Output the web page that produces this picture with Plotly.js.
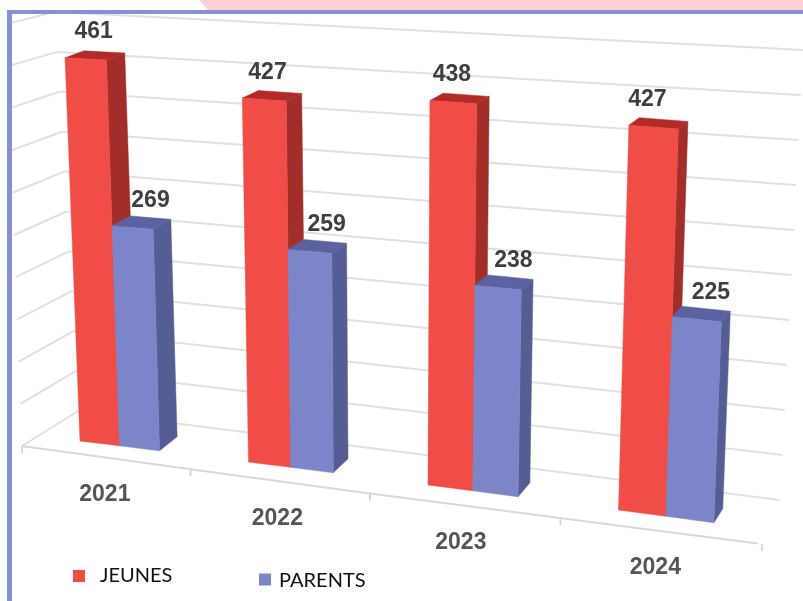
<!DOCTYPE html>
<html>
<head>
<meta charset="utf-8">
<script src="https://cdn.plot.ly/plotly-3.0.1.min.js"></script>
<style>html,body{margin:0;padding:0;background:#fff}#chart{width:803px;height:601px;filter:blur(0.45px)}</style>
</head>
<body>
<div id="chart"></div>
<script>
const years = ["2021", "2022", "2023", "2024"];
const jeunes = [461, 427, 438, 427];
const parents = [269, 259, 238, 225];
const seriesNames = ["JEUNES", "PARENTS"];
const gridValues = [0, 50, 100, 150, 200, 250, 300, 350, 400, 450, 500];
const floorTicks = [0, 1, 2, 3, 4];

// Perspective projection of (position along the category axis, value, depth) to screen space
const baseX = u => 80 + 163 * u + 5.5 * u * u;
const baseY = u => 441 + 20 * u + 1.0 * u * u;
const scaleY = (u, v) => 0.785 + 0.0245 * u + 0.0001 * v;
const tilt = u => 0.039 - 0.022 * u;
const BAR = 0.24;
function project(u, v, d) {
  const h = scaleY(u, v) * v;
  const dx = (19 - 2.9 * u) * d;
  const dy = (-14 + 7 * v / 461) * d;
  return [baseX(u) - tilt(u) * h + dx, baseY(u) - h + dy];
}
const floorFrontX = t => 22 + 163 * t + 5.5 * t * t;
const floorFrontY = t => 446 + 22.9 * t + 0.4 * t * t;

const traces = [];
function poly(points, color) {
  traces.push({
    type: "scatter", mode: "lines", fill: "toself", fillcolor: color,
    x: points.map(p => p[0]).concat(points[0][0]),
    y: points.map(p => p[1]).concat(points[0][1]),
    line: {color: color, width: 0.5}, hoverinfo: "skip", showlegend: false
  });
}

// Walls and floor grid
const gx = [], gy = [];
function seg(a, b) { gx.push(a[0], b[0], null); gy.push(a[1], b[1], null); }
const backL = v => [78 - 23 * v / 500, 411 - 399 * v / 500];
const backR = v => [780 + 23 * v / 500, 500 - 450 * v / 500];
const sideF = v => [22 - 16 * v / 500, 446 - 422 * v / 500];
gridValues.forEach(v => { seg(sideF(v), backL(v)); seg(backL(v), backR(v)); });
traces.push({type: "scatter", mode: "lines", x: gx, y: gy,
  line: {color: "#e0e0e0", width: 2}, hoverinfo: "skip", showlegend: false});

const fx = [], fy = [];
const curve = [0, 0.5, 1, 1.5, 2, 2.5, 3, 3.5, 3.98];
curve.forEach(t => { fx.push(floorFrontX(t)); fy.push(floorFrontY(t)); });
fx.push(null); fy.push(null);
floorTicks.forEach(t => {
  const x = floorFrontX(t), y = floorFrontY(t);
  fx.push(x, x, null); fy.push(y, y + 7, null);
});
traces.push({type: "scatter", mode: "lines", x: fx, y: fy,
  line: {color: "#d8d8d8", width: 2}, hoverinfo: "skip", showlegend: false});

// Bars
const RED = {front: "#ef4d46", side: "#a22e29", top: "#b32b27"};
const BLUE = {front: "#7d85c9", side: "#565d94", top: "#5a62a0"};
function bar(u0, v, c) {
  const u1 = u0 + BAR;
  poly([project(u1, 0, 0), project(u1, 0, 1), project(u1, v, 1), project(u1, v, 0)], c.side);
  poly([project(u0, v, 0), project(u0, v, 1), project(u1, v, 1), project(u1, v, 0)], c.top);
  poly([project(u0, 0, 0), project(u1, 0, 0), project(u1, v, 0), project(u0, v, 0)], c.front);
}
years.forEach((y, g) => {
  bar(g, jeunes[g], RED);
  bar(g + BAR, parents[g], BLUE);
});

// Value labels
const labelFont = {family: "Liberation Sans, sans-serif", size: 23, color: "#3f3f3f"};
function valueLabels(values, u0, shift) {
  const pts = values.map((v, g) => {
    const c = project(g + u0 + BAR / 2, v, 0);
    return [c[0] + shift(g), c[1] - 26.5];
  });
  traces.push({type: "scatter", mode: "text", x: pts.map(p => p[0]), y: pts.map(p => p[1]),
    text: values.map(String), textposition: "middle center",
    textfont: labelFont, texttemplate: "<b>%{text}</b>", hoverinfo: "skip", showlegend: false});
}
valueLabels(jeunes, 0, g => 8 - 4.7 * g);
valueLabels(parents, BAR, g => 18 - 1.3 * g);

// Category labels
traces.push({type: "scatter", mode: "text",
  x: years.map((y, g) => floorFrontX(g + 0.5) - g * 1.5),
  y: years.map((y, g) => floorFrontY(g + 0.5) + 37.5),
  text: years, textposition: "middle center",
  textfont: {family: "Liberation Sans, sans-serif", size: 23, color: "#555555"},
  texttemplate: "<b>%{text}</b>", hoverinfo: "skip", showlegend: false});

// Legend
const legendFont = {family: "Lato, sans-serif", size: 20, color: "#111111"};
[[79, 576, RED.front, 100, 577], [265, 579.5, BLUE.front, 279, 582]].forEach((l, i) => {
  traces.push({type: "scatter", mode: "markers", x: [l[0]], y: [l[1]], name: seriesNames[i],
    marker: {symbol: "square", size: 12, color: l[2]}, hoverinfo: "skip", showlegend: false});
  traces.push({type: "scatter", mode: "text", x: [l[3]], y: [l[4]], text: [seriesNames[i]],
    textposition: "middle right", textfont: legendFont, hoverinfo: "skip", showlegend: false});
});

const layout = {
  width: 803, height: 601, autosize: false,
  margin: {l: 0, r: 0, t: 0, b: 0},
  paper_bgcolor: "#ffffff", plot_bgcolor: "#ffffff",
  showlegend: false,
  xaxis: {range: [0, 803], visible: false, fixedrange: true},
  yaxis: {range: [601, 0], visible: false, fixedrange: true},
  shapes: [
    {type: "rect", xref: "x", yref: "y", x0: 0, x1: 7, y0: 0, y1: 601, fillcolor: "#ffffff", line: {width: 0}, layer: "above"},
    {type: "path", xref: "x", yref: "y", path: "M 199 0 L 208 10 L 803 10 L 803 0 Z", fillcolor: "#fbd1d1", line: {width: 0}, layer: "above"},
    {type: "rect", xref: "x", yref: "y", x0: 7, x1: 12, y0: 10, y1: 601, fillcolor: "#8690d4", line: {width: 0}, layer: "above"},
    {type: "rect", xref: "x", yref: "y", x0: 7, x1: 803, y0: 10, y1: 14, fillcolor: "#8690d4", line: {width: 0}, layer: "above"}
  ]
};
Plotly.newPlot("chart", traces, layout, {displayModeBar: false, staticPlot: true});
</script>
</body>
</html>
